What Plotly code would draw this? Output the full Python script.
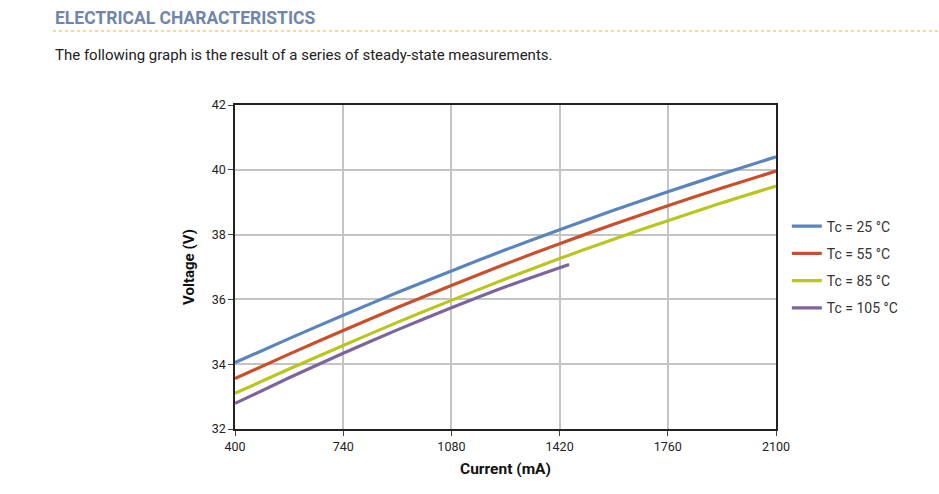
import plotly.graph_objects as go

current_25 = [400, 570, 740, 910, 1080, 1250, 1420, 1590, 1760, 1930, 2100]
voltage_25 = [34.05, 34.79, 35.51, 36.21, 36.88, 37.53, 38.15, 38.75, 39.32, 39.87, 40.40]

current_55 = [400, 570, 740, 910, 1080, 1250, 1420, 1590, 1760, 1930, 2100]
voltage_55 = [33.56, 34.31, 35.04, 35.75, 36.43, 37.09, 37.72, 38.32, 38.89, 39.44, 39.96]

current_85 = [400, 570, 740, 910, 1080, 1250, 1420, 1590, 1760, 1930, 2100]
voltage_85 = [33.10, 33.85, 34.58, 35.29, 35.97, 36.63, 37.26, 37.86, 38.43, 38.98, 39.50]

current_105 = [400, 570, 740, 910, 1080, 1250, 1450]
voltage_105 = [32.79, 33.58, 34.34, 35.06, 35.74, 36.39, 37.08]

series_names = ["Tc = 25 °C", "Tc = 55 °C", "Tc = 85 °C", "Tc = 105 °C"]
series_colors = ["#5a84bd", "#c8502c", "#bac61e", "#7d64a0"]

x_ticks = [400, 740, 1080, 1420, 1760, 2100]
y_ticks = [32, 34, 36, 38, 40, 42]

fig = go.Figure()
for i, (xs, ys, name, col) in enumerate(zip(
    [current_25, current_55, current_85, current_105],
    [voltage_25, voltage_55, voltage_85, voltage_105],
    series_names, series_colors)):
    fig.add_trace(go.Scatter(x=xs, y=ys, mode="lines", name=name, legendgroup=f"g{i}",
                             line=dict(color=col, width=3.2, shape="spline", smoothing=0.8)))

fig.update_layout(
    width=939, height=494,
    margin=dict(l=235, r=163, t=105, b=65),
    paper_bgcolor="white", plot_bgcolor="white",
    font=dict(family="Roboto, Arial, sans-serif", size=12, color="#222"),
    showlegend=True,
    legend=dict(x=1.02, y=0.674, xanchor="left", yanchor="top",
                font=dict(size=14, color="#333"), tracegroupgap=6,
                itemwidth=30, bgcolor="rgba(0,0,0,0)"),
    xaxis=dict(range=[400, 2100], tickvals=x_ticks, ticktext=[str(v) for v in x_ticks],
               showgrid=True, gridcolor="#c4c4c4", gridwidth=1.5,
               showline=True, linecolor="#222", linewidth=1.5, mirror=True,
               ticks="outside", ticklen=5, tickcolor="#444",
               tickfont=dict(size=12.5, color="#222"),
               title=dict(text="<b>Current (mA)</b>", font=dict(size=15.5, color="#111"), standoff=10),
               zeroline=False),
    yaxis=dict(range=[32, 42], tickvals=y_ticks, ticktext=[str(v) for v in y_ticks],
               showgrid=True, gridcolor="#c4c4c4", gridwidth=1.5,
               showline=True, linecolor="#222", linewidth=1.5, mirror=True,
               ticks="outside", ticklen=5, tickcolor="#444",
               tickfont=dict(size=12.5, color="#222"),
               title=dict(text="<b>Voltage (V)</b>", font=dict(size=15, color="#111"), standoff=13),
               zeroline=False),
)

fig.add_annotation(text="<b>ELECTRICAL CHARACTERISTICS</b>", xref="paper", yref="paper",
                   x=(53 - 235) / 541, y=1 + (105 - 18) / 324, xanchor="left", yanchor="middle",
                   showarrow=False, font=dict(size=17.5, color="#6f86ab", family="Roboto, Arial, sans-serif"))
fig.add_annotation(text="The following graph is the result of a series of steady-state measurements.",
                   xref="paper", yref="paper",
                   x=(53 - 235) / 541, y=1 + (105 - 55) / 324, xanchor="left", yanchor="middle",
                   showarrow=False, font=dict(size=15, color="#222", family="Roboto, Arial, sans-serif"))
fig.add_shape(type="line", xref="paper", yref="paper",
              x0=(53 - 235) / 541, x1=(939 - 235) / 541,
              y0=1 + (105 - 31) / 324, y1=1 + (105 - 31) / 324,
              line=dict(color="#f0d36a", width=1.5, dash="dot"))

fig.write_html("out.html")
